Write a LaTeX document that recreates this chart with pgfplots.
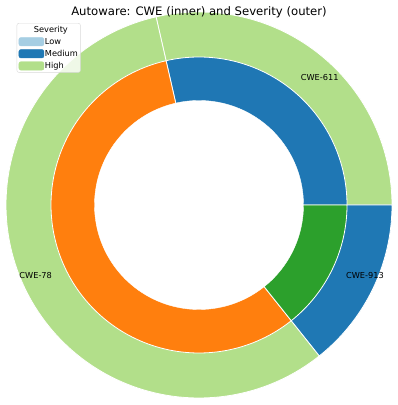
\documentclass[border=0pt]{standalone}
\usepackage{pgfplots}
\pgfplotsset{compat=1.18}
\usepackage{fontspec}
\setmainfont{DejaVu Sans}
\definecolor{tabblue}{HTML}{1F77B4}
\definecolor{taborange}{HTML}{FF7F0E}
\definecolor{tabgreen}{HTML}{2CA02C}
\definecolor{sevlow}{HTML}{A6CEE3}
\definecolor{sevmed}{HTML}{1F78B4}
\definecolor{sevhigh}{HTML}{B2DF8A}
\begin{document}
\begin{tikzpicture}
% counts per CWE: CWE-611 = 2 (High), CWE-78 = 4 (High), CWE-913 = 1 (Medium)
\pgfmathsetmacro{\nA}{2}
\pgfmathsetmacro{\nB}{4}
\pgfmathsetmacro{\nC}{1}
\pgfmathsetmacro{\tot}{\nA+\nB+\nC}
\pgfmathsetmacro{\aA}{0}
\pgfmathsetmacro{\aB}{\aA+360*\nA/\tot}
\pgfmathsetmacro{\aC}{\aB+360*\nB/\tot}
\pgfmathsetmacro{\aD}{360}
\pgfmathsetmacro{\mA}{(\aA+\aB)/2}
\pgfmathsetmacro{\mB}{(\aB+\aC)/2}
\pgfmathsetmacro{\mC}{(\aC+\aD)/2}
\def\cx{199}
\def\cy{200}
\def\Ro{193}
\def\Ri{148}
\def\Rh{104.5}
\def\Rl{163}
\begin{axis}[
  width=398bp, height=405bp, scale only axis,
  xmin=0, xmax=398, ymin=0, ymax=405,
  axis line style={draw=none}, xtick=\empty, ytick=\empty,
  clip=false,
  legend cell align=left,
  legend style={at={(0.042,0.943)}, anchor=north west,
    draw=black!15, rounded corners=2bp, fill=white, fill opacity=0.8, text opacity=1,
    font=\fontsize{8.25}{9.5}\selectfont, inner sep=1.8bp,
    row sep=2.8bp, column sep=0bp,
    nodes={inner sep=0.8bp}},
]
% outer ring (severity)
\addplot[forget plot, fill=sevhigh, draw=white, line width=0.8bp, domain=\aA:\aB, samples=80, variable=\t]
  ({\cx+\Ro*cos(\t)},{\cy+\Ro*sin(\t)}) -- (axis cs:\cx,\cy) -- cycle;
\addplot[forget plot, fill=sevhigh, draw=white, line width=0.8bp, domain=\aB:\aC, samples=120, variable=\t]
  ({\cx+\Ro*cos(\t)},{\cy+\Ro*sin(\t)}) -- (axis cs:\cx,\cy) -- cycle;
\addplot[forget plot, fill=sevmed, draw=white, line width=0.8bp, domain=\aC:\aD, samples=50, variable=\t]
  ({\cx+\Ro*cos(\t)},{\cy+\Ro*sin(\t)}) -- (axis cs:\cx,\cy) -- cycle;
% inner ring (CWE)
\addplot[forget plot, fill=tabblue, draw=white, line width=0.8bp, domain=\aA:\aB, samples=80, variable=\t]
  ({\cx+\Ri*cos(\t)},{\cy+\Ri*sin(\t)}) -- (axis cs:\cx,\cy) -- cycle;
\addplot[forget plot, fill=taborange, draw=white, line width=0.8bp, domain=\aB:\aC, samples=120, variable=\t]
  ({\cx+\Ri*cos(\t)},{\cy+\Ri*sin(\t)}) -- (axis cs:\cx,\cy) -- cycle;
\addplot[forget plot, fill=tabgreen, draw=white, line width=0.8bp, domain=\aC:\aD, samples=50, variable=\t]
  ({\cx+\Ri*cos(\t)},{\cy+\Ri*sin(\t)}) -- (axis cs:\cx,\cy) -- cycle;
% hole
\addplot[forget plot, fill=white, draw=white, domain=0:360, samples=150, variable=\t]
  ({\cx+\Rh*cos(\t)},{\cy+\Rh*sin(\t)}) -- cycle;
% labels
\node[anchor=west, inner sep=0pt, font=\fontsize{8.25}{9.5}\selectfont] at (axis cs:{\cx+\Rl*cos(\mA)},{\cy+\Rl*sin(\mA)}) {CWE-611};
\node[anchor=east, inner sep=0pt, font=\fontsize{8.25}{9.5}\selectfont] at (axis cs:{\cx+\Rl*cos(\mB)},{\cy+\Rl*sin(\mB)}) {CWE-78};
\node[anchor=west, inner sep=0pt, font=\fontsize{8.25}{9.5}\selectfont] at (axis cs:{\cx+\Rl*cos(\mC)},{\cy+\Rl*sin(\mC)}) {CWE-913};
% title
\node[font=\fontsize{11.7}{14}\selectfont] at (axis cs:199,393) {Autoware: CWE (inner) and Severity (outer)};
% legend
\addlegendimage{empty legend}
\addlegendentry{\hspace*{-11bp}Severity}
\addlegendimage{legend image code/.code={\fill[sevlow, fill opacity=1] (0bp,-4.2bp) rectangle (25bp,4.2bp);}}
\addlegendentry{Low}
\addlegendimage{legend image code/.code={\fill[sevmed, fill opacity=1] (0bp,-4.2bp) rectangle (25bp,4.2bp);}}
\addlegendentry{Medium}
\addlegendimage{legend image code/.code={\fill[sevhigh, fill opacity=1] (0bp,-4.2bp) rectangle (25bp,4.2bp);}}
\addlegendentry{High}
\end{axis}
\end{tikzpicture}
\end{document}
